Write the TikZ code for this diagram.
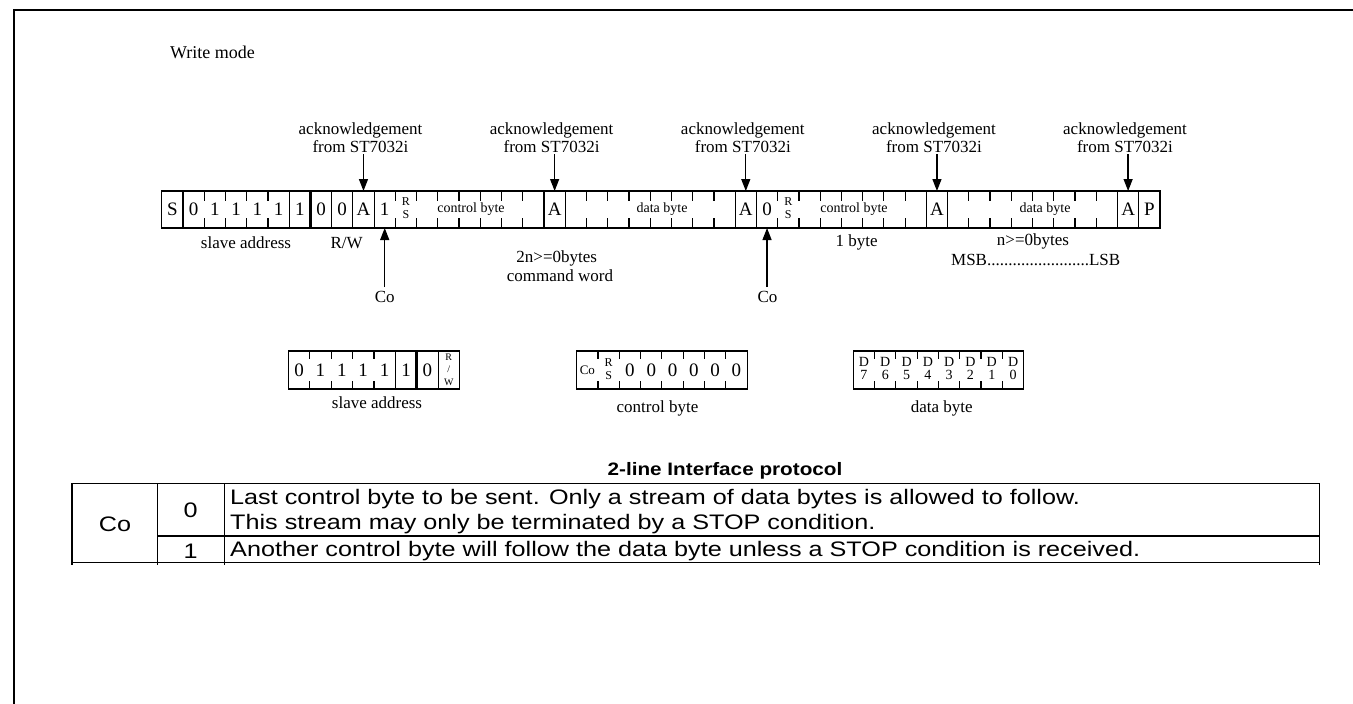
\documentclass[tikz,border=0pt]{standalone}
\usepackage{fontspec}
\setmainfont{Liberation Serif}
\newfontfamily\arialw[FakeStretch=1.2]{Liberation Sans}
\newfontfamily\arialb[FakeStretch=1.15]{Liberation Sans}
\usetikzlibrary{arrows.meta}
\newcommand\fs[2]{\fontsize{#1}{#2}\selectfont}
\newcommand\stk[1]{\begin{tabular}{@{}c@{}}#1\end{tabular}}
\newcommand\rs{{\fs{12}{13}\stk{R\\S}}}
\newcommand\rw{{\fs{10}{12.5}\stk{R\\/\\W}}}
\newcommand\dd[1]{{\fs{14}{13}\stk{D\\#1}}}
\begin{document}
\begin{tikzpicture}[x=1pt,y=-1pt,
  cell/.style={minimum width=21.24pt,minimum height=37pt,inner sep=0pt,outer sep=0pt,font=\fs{19}{20}},
  bcell/.style={minimum width=21.35pt,minimum height=38pt,inner sep=0pt,outer sep=0pt,font=\fs{19}{20}},
  ack/.style={align=center,font=\fs{17}{18},inner sep=1pt},
  lbl/.style={font=\fs{17}{18},inner sep=0pt},
  cotxt/.style={font=\fs{17}{18},inner sep=4pt},
  small/.style={font=\fs{14}{15},inner sep=0pt},
  arr/.style={-{Triangle[length=12pt,width=9pt]},line width=1.3pt},
  ln/.style={line width=1.2pt},
  thk/.style={line width=2.6pt},
  tbl/.style={font=\arialw\fs{21}{25},inner sep=0pt},
]
\useasboundingbox (0,0) rectangle (1353,704);
% frame
\draw[line width=1.5pt] (14,704) -- (14,10) -- (1353,10);
\node[font=\fs{18}{20},inner sep=0pt] (wm) at (212.5,52) {Write mode};

% main row cells
\foreach \i/\t in {0/S,1/0,2/1,3/1,4/1,5/1,6/1,7/0,8/0,9/A,10/1,11/\rs,12/,13/,14/,15/,16/,17/,
  18/A,19/,20/,21/,22/,23/,24/,25/,26/,27/A,28/0,29/\rs,30/,31/,32/,33/,34/,35/,36/A,
  37/,38/,39/,40/,41/,42/,43/,44/,45/A,46/P}
  \node[cell] (c\i) at ({161.7+21.24*(\i+0.5)},209.5) {\t};
\draw[ln] (c0.north west) rectangle (c46.south east);
\foreach \i in {1,6,8,9,10,18,19,27,28,36,37,45,46}
  \draw[ln] (c\i.north west) -- (c\i.south west);
\draw[thk] (c7.north west) -- (c7.south west);
\foreach \i in {2,3,4,5,11,12,13,14,15,16,17,20,21,22,23,24,25,26,29,30,31,32,33,34,35,38,39,40,41,42,43,44}{
  \draw[ln] (c\i.north west) -- ++(0,10);
  \draw[ln] (c\i.south west) -- ++(0,-10);
}
\node[small] (cb1) at (471,209.5) {control byte};
\node[small] (db1) at (662,209.5) {data byte};
\node[small] (cb2) at (854,209.5) {control byte};
\node[small] (db2) at (1045,209.5) {data byte};

% acknowledgement labels
\foreach \n/\x/\c in {1/360.5/9,2/551.6/18,3/742.8/27,4/934/36,5/1125/45}{
  \node[ack] (a\n) at (\x,138) {acknowledgement\\from ST7032i};
  \draw[arr] (c\c.north |- a\n.south) -- (c\c.north);
}

% Co labels
\node[cotxt] (co1) at (384.8,297) {Co};
\draw[arr] (c10.south |- co1.north) -- (c10.south);
\node[cotxt] (co2) at (767.5,297) {Co};
\draw[arr] (c28.south |- co2.north) -- (c28.south);

% labels below row
\node[lbl] (l1) at (246,243) {slave address};
\node[lbl] (l2) at (346.7,243) {R/W};
\node[lbl] (l3) at (556.7,258) {2n>=0bytes};
\node[lbl] (l4) at (560,276) {command word};
\node[lbl] (l5) at (856.7,242) {1 byte};
\node[lbl] (l6) at (1033,241) {n>=0bytes};
\node[lbl] (l7) at (1035.7,260) {MSB........................LSB};

% bottom: slave address
\foreach \i/\t in {0/0,1/1,2/1,3/1,4/1,5/1,6/0,7/\rw}
  \node[bcell] (s\i) at ({288.3+21.4*(\i+0.5)},370) {\t};
\draw[ln] (s0.north west) rectangle (s7.south east);
\foreach \i in {5,7} \draw[ln] (s\i.north west) -- (s\i.south west);
\draw[thk] (s6.north west) -- (s6.south west);
\foreach \i in {1,2,3,4}{
  \draw[ln] (s\i.north west) -- ++(0,8);
  \draw[ln] (s\i.south west) -- ++(0,-8);
}
\node[lbl] (sl) at (377,402.7) {slave address};

% bottom: control byte
\foreach \i/\t in {0/{\fs{13}{14}Co},1/\rs,2/0,3/0,4/0,5/0,6/0,7/0}
  \node[bcell] (k\i) at ({576.7+21.3*(\i+0.5)},370) {\t};
\draw[ln] (k0.north west) rectangle (k7.south east);
\foreach \i in {1,...,7}{
  \draw[ln] (k\i.north west) -- ++(0,8);
  \draw[ln] (k\i.south west) -- ++(0,-8);
}
\node[lbl] (kl) at (657.5,408) {control byte};

% bottom: data byte
\foreach \i/\t in {0/7,1/6,2/5,3/4,4/3,5/2,6/1,7/0}
  \node[bcell] (d\i) at ({853.3+21.3*(\i+0.5)},370) {\dd{\t}};
\draw[ln] (d0.north west) rectangle (d7.south east);
\foreach \i in {1,...,7}{
  \draw[ln] (d\i.north west) -- ++(0,8);
  \draw[ln] (d\i.south west) -- ++(0,-8);
}
\node[lbl] (dl) at (941.7,408) {data byte};

% table
\node[font=\arialb\bfseries\fs{18}{20},inner sep=0pt] (title) at (725,470.7) {2-line Interface protocol};
\draw[ln] (72,483.3) -- (1319.3,483.3);
\draw[ln] (72,562.7) -- (1319.3,562.7);
\draw[ln] (157.3,536) -- (1319.3,536);
\foreach \x in {72,157.3,224.3,1319.3} \draw[ln] (\x,483.3) -- (\x,565);
\node[tbl] (tco) at (115,524) {Co};
\node[tbl] (t0) at (190.7,510.7) {0};
\node[tbl] (t1) at (190.7,551) {1};
\node[tbl,anchor=west] (r1) at (230,499.3) {Last control byte to be sent. Only a stream of data bytes is allowed to follow.};
\node[tbl,anchor=west] (r2) at (230,524.3) {This stream may only be terminated by a STOP condition.};
\node[tbl,anchor=west] (r3) at (230,551) {Another control byte will follow the data byte unless a STOP condition is received.};
\end{tikzpicture}
\end{document}
